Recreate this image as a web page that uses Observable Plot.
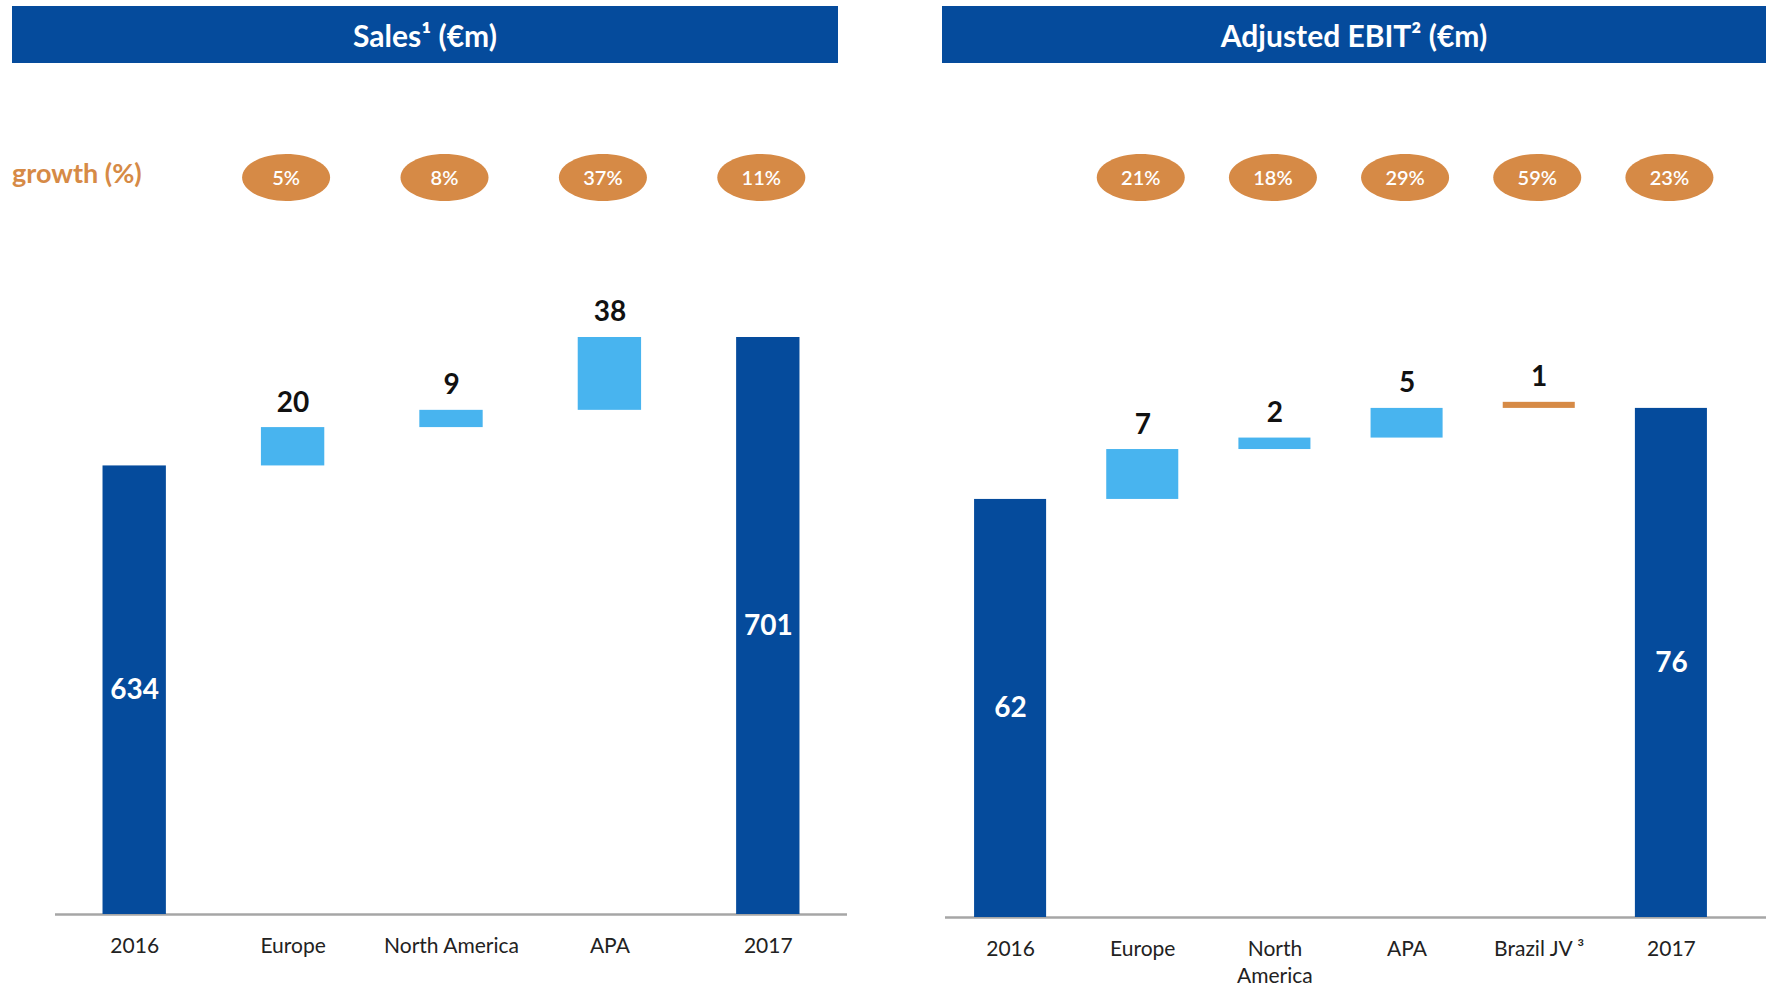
<!DOCTYPE html>
<html><head><meta charset="utf-8">
<script src="https://cdn.jsdelivr.net/npm/d3@7"></script>
<script src="https://cdn.jsdelivr.net/npm/@observablehq/plot@0.6"></script>
<style>
body{margin:0;background:#fff;font-family:Lato,"Open Sans",sans-serif;}
#page{position:relative;width:1768px;height:991px;overflow:hidden;background:#fff;}
.hdr{position:absolute;top:6px;height:57px;background:#054B9C;color:#fff;font-weight:700;font-size:30px;display:flex;align-items:center;justify-content:center;}
.growth{position:absolute;left:12px;top:157px;line-height:32px;color:#D68A46;font-size:27px;font-weight:700;}
.chart{position:absolute;top:120px;}
</style></head>
<body><div id="page">
<div class="hdr" style="left:12px;width:826px">Sales¹ (€m)</div>
<div class="hdr" style="left:942px;width:824px">Adjusted EBIT² (€m)</div>
<div class="growth">growth (%)</div>
<div class="chart" id="left" style="left:0px"></div>
<div class="chart" id="right" style="left:884px"></div>
</div>
<script>
// Sales data
const salesCategories = ["2016","Europe","North America","APA","2017"];
const salesValues = [634, 20, 9, 38, 701];
const salesKinds = ["total","delta","delta","delta","total"];
const salesLabels = ["634","20","9","38","701"];
const salesGrowthCats = ["Europe","North America","APA","2017"];
const salesGrowth = ["5%","8%","37%","11%"];

// Adjusted EBIT data
const ebitCategories = ["2016","Europe","North America","APA","Brazil JV","2017"];
const ebitValues = [62.0, 7.4, 1.7, 4.4, 0.9, 75.5];
const ebitKinds = ["total","delta","delta","delta","jv","total"];
const ebitLabels = ["62","7","2","5","1","76"];
const ebitGrowthCats = ["Europe","North America","APA","Brazil JV","2017"];
const ebitGrowth = ["21%","18%","29%","59%","23%"];
const ebitTickLabels = {"North America":"North\nAmerica","Brazil JV":"Brazil JV ³"};

const kindColors = {total:"#054B9C", delta:"#48B4EF", jv:"#D68A46"};

function waterfall(cats, vals, kinds, labels, floor){
  let run = 0;
  return cats.map((c,i)=>{
    let lo, hi;
    if (kinds[i]==="total"){ lo=floor; hi=vals[i]; run=vals[i]; }
    else { lo=run; hi=run+vals[i]; if (kinds[i]==="delta") run=hi; }
    return {cat:c, lo, hi, kind:kinds[i], label:labels[i], color:kindColors[kinds[i]]};
  });
}

const ellipseSymbol = { draw(ctx){ const rx=44, ry=23.5, k=0.5523;
  ctx.moveTo(rx,0);
  ctx.bezierCurveTo(rx, ry*k, rx*k, ry, 0, ry);
  ctx.bezierCurveTo(-rx*k, ry, -rx, ry*k, -rx, 0);
  ctx.bezierCurveTo(-rx, -ry*k, -rx*k, -ry, 0, -ry);
  ctx.bezierCurveTo(rx*k, -ry, rx, -ry*k, rx, 0);
  ctx.closePath(); } };

function chart(o){
  const rows = waterfall(o.cats, o.vals, o.kinds, o.labels, o.yDomain[0]);
  const growthData = o.growthCats.map((c,i)=>({cat:c, g:o.growth[i]}));
  return Plot.plot({
    width:o.width, height:871, marginLeft:o.marginLeft, marginRight:o.marginRight,
    marginTop:120, marginBottom:o.marginBottom,
    x:{domain:o.cats, paddingInner:o.pi, paddingOuter:o.po, round:false, label:null},
    y:{domain:o.yDomain, axis:null},
    color:{type:"identity"},
    style:{fontFamily:"Lato, 'Open Sans', sans-serif", background:"transparent"},
    marks:[
      Plot.ruleY([o.yDomain[0]], {stroke:"#A6A6A6", strokeWidth:2.5, insetRight:o.ruleInsetRight}),
      Plot.barY(rows, {x:"cat", y1:"lo", y2:"hi", fill:"color"}),
      Plot.text(rows.filter(d=>d.kind!=="total"), {x:"cat", y:"hi", text:"label", dy:-25, fontSize:28, fontWeight:700, fill:"#111"}),
      Plot.text(rows.filter(d=>d.kind==="total"), {x:"cat", y:d=>(d.lo+d.hi)/2, text:"label", fontSize:28, fontWeight:700, fill:"white"}),
      Plot.dot(growthData, {x:"cat", frameAnchor:"top", dy:-63, dx:o.ellDx, symbol:ellipseSymbol, r:10, fill:"#D68A46", stroke:null}),
      Plot.text(growthData, {x:"cat", frameAnchor:"top", lineAnchor:"middle", dy:-62, dx:o.ellDx, text:"g", fontSize:20, fontWeight:600, fill:"white"}),
      Plot.axisX({tickSize:0, tickPadding:19, fontSize:21, fill:"#222", lineHeight:1.3, tickFormat:o.tickFormat, label:null})
    ]
  });
}

document.getElementById("left").append(chart({
  cats:salesCategories, vals:salesValues, kinds:salesKinds, labels:salesLabels,
  growthCats:salesGrowthCats, growth:salesGrowth,
  width:884, marginLeft:55, marginRight:37, marginBottom:77,
  yDomain:[400,751.6], pi:0.6, po:0.3, ruleInsetRight:0, ellDx:-7,
  tickFormat:d=>d
}));

document.getElementById("right").append(chart({
  cats:ebitCategories, vals:ebitValues, kinds:ebitKinds, labels:ebitLabels,
  growthCats:ebitGrowthCats, growth:ebitGrowth,
  width:884, marginLeft:61, marginRight:32, marginBottom:74,
  yDomain:[0,100.4], pi:0.455, po:0.22, ruleInsetRight:-30, ellDx:-2,
  tickFormat:d=>ebitTickLabels[d] ?? d
}));
</script>
</body></html>
